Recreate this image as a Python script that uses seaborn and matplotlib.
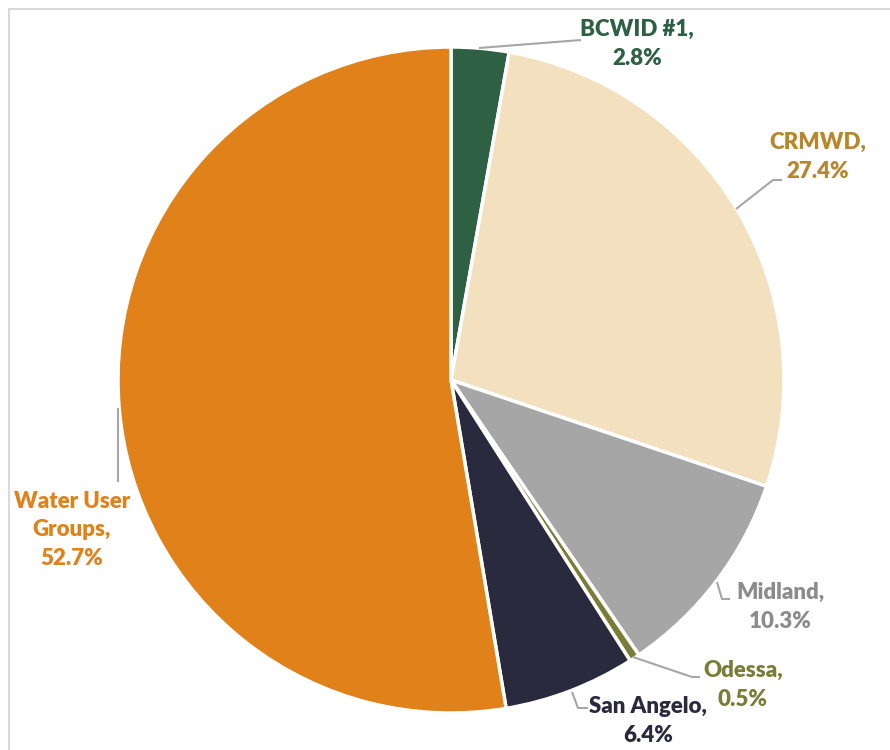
import matplotlib.pyplot as plt
import seaborn as sns
from matplotlib.patches import Rectangle

sns.set_theme(style="white")
plt.rcParams['font.family'] = ['Lato', 'DejaVu Sans']

# clockwise from 12 o'clock
names = ['BCWID #1', 'CRMWD', 'Midland', 'Odessa', 'San Angelo', 'Water User Groups']
shares = [2.8, 27.4, 10.3, 0.5, 6.4, 52.7]
slice_colors = ['#2E6044', '#F2E0BF', '#A6A6A6', '#7A7D35', '#2A2A3F', '#E0811A']
text_colors = ['#2E6044', '#B8862B', '#8C8C8C', '#7A7D35', '#2A2A3F', '#E0811A']
label_text = ['BCWID #1,\n2.8%', 'CRMWD,\n27.4%', 'Midland,\n10.3%', 'Odessa,\n0.5%',
              'San Angelo,\n6.4%', 'Water User\nGroups,\n52.7%']

W, H = 890, 750
fig = plt.figure(figsize=(8.9, 7.5), dpi=100)
ax = fig.add_axes([0, 0, 1, 1])

cx, cy, r = 451, H - 380, 333
ax.pie(shares, colors=slice_colors, startangle=90, counterclock=False,
       center=(cx, cy), radius=r, frame=True,
       wedgeprops=dict(edgecolor='white', linewidth=2.5))
ax.set_xlim(0, W)
ax.set_ylim(0, H)
ax.set_aspect('equal')
ax.axis('off')

# label positions and leader lines (pixel coords, y from top)
text_pos = [(637, 44), (818, 157), (780, 607), (743, 685), (648, 721), (72, 530)]
leaders = [
    [(479, 48), (581, 40)],
    [(736, 209), (773, 180), (782, 180)],
    [(717, 582), (722, 599), (730, 599)],
    [(633, 657), (692, 677), (700, 677)],
    [(572, 692), (578, 708), (588, 708)],
    [(118, 408), (118, 482)],
]

for txt, col, (tx, ty), pts in zip(label_text, text_colors, text_pos, leaders):
    ax.text(tx, H - ty, txt, color=col, fontsize=16, fontweight='heavy',
            ha='center', va='center', linespacing=1.45)
    xs = [p[0] for p in pts]
    ys = [H - p[1] for p in pts]
    ax.plot(xs, ys, color='#A6A6A6', lw=1.5, solid_capstyle='butt')

# light frame, only top and left edges visible
ax.add_patch(Rectangle((9, -20), W + 20, H - 9 + 20, fill=False,
                       edgecolor='#D9D9D9', lw=1.5, clip_on=False))

fig.savefig('out.png', dpi=100)
